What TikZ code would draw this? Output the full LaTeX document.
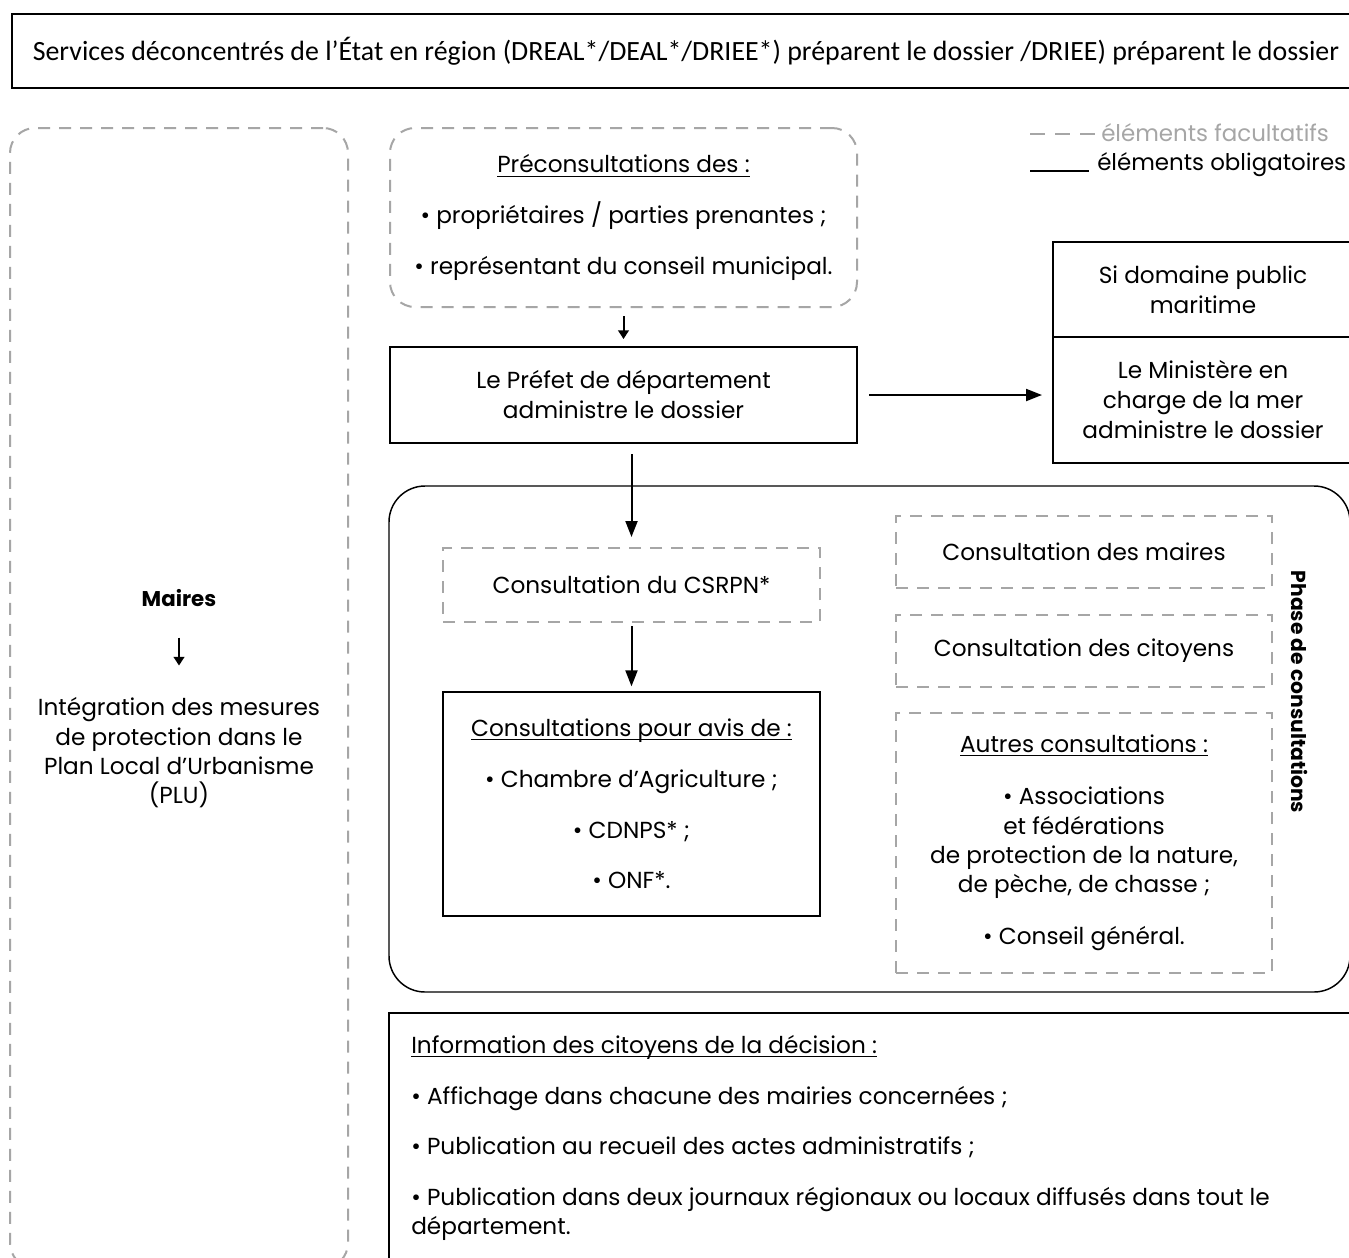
\documentclass[tikz,border=0pt]{standalone}
\usepackage{fontspec}
\setmainfont{Poppins}
\newfontfamily\bannerfont{Carlito}
\usetikzlibrary{arrows.meta}
\newlength\myulw
\newcommand\myul[1]{\settowidth\myulw{#1}\rlap{\rule[-2.8pt]{\myulw}{0.8pt}}#1}
\definecolor{dgray}{HTML}{A6A6A6}
\begin{document}
\begin{tikzpicture}[x=0.75pt,y=-0.75pt,
 txt/.style={font=\fontsize{17.4}{22.5}\selectfont, align=center, text=black},
 solidbox/.style={draw=black, line width=1.5pt, inner sep=0pt},
 thinbox/.style={draw=black, line width=1pt, inner sep=0pt},
 optbox/.style={draw=dgray, line width=1.5pt, dash pattern=on 9pt off 6.75pt, inner sep=0pt},
 conn/.style={-{Triangle[length=12pt,width=9pt]}, line width=1.5pt},
 smallarrow/.style={-{Triangle[length=6.5pt,width=8pt]}, line width=1.5pt},
]
\useasboundingbox (0,0) rectangle (1349,1257);
\clip (0,0) rectangle (1349,1257);
\fill[white] (0,0) rectangle (1349,1257);

% banner
\node[draw=black, line width=1.2pt, inner sep=0pt, minimum width=1011pt, minimum height=55.5pt,
  font={\bannerfont\fontsize{20.9}{24}\selectfont}] (banner) at (686,51)
  {Services déconcentrés de l’État en région (DREAL*/DEAL*/DRIEE*) préparent le dossier /DRIEE) préparent le dossier};

% legend
\node[anchor=west, text=dgray, font=\fontsize{17.2}{20}\selectfont, inner sep=0pt] (legopt) at (1101,133) {éléments facultatifs};
\coordinate (legoptstart) at (1030,134);
\draw[dgray, line width=1.5pt, dash pattern=on 11.25pt off 7.5pt, shorten >=4.5pt] (legoptstart) -- (legoptstart -| legopt.west);
\node[anchor=base west, font=\fontsize{17.2}{20}\selectfont, inner sep=0pt] (legobl) at (1097,170) {éléments obligatoires};
\coordinate (legoblstart) at (1030,171);
\draw[black, line width=1.5pt, shorten >=6pt] (legoblstart) -- (legoblstart -| legobl.west);

% left column
\node[optbox, rounded corners=18.75pt, minimum width=253.5pt, minimum height=855pt] (mairesbox) at (179,698) {};
\node[font=\fontsize{16}{22.5}\selectfont\bfseries, inner sep=0pt] (maires) at (179,598) {Maires};
\node[txt, font=\fontsize{17.4}{22}\selectfont, inner sep=0pt] (integ) at (179,753) {Intégration des mesures\\de protection dans le\\Plan Local d’Urbanisme\\(PLU)};
\draw[smallarrow, shorten <=23pt, shorten >=24pt] (maires.south) -- (integ.north);

% preconsultations
\node[optbox, rounded corners=18.75pt, minimum width=350.25pt, minimum height=134.25pt, txt, font=\fontsize{17.4}{38}\selectfont] (precon) at (623.5,217.5)
  {\myul{Préconsultations des :}\\• propriétaires / parties prenantes ;\\• représentant du conseil municipal.};
\node[solidbox, txt, minimum width=350.25pt, minimum height=72pt] (prefet) at (623.5,395) {Le Préfet de département\\administre le dossier};
\draw[smallarrow, shorten <=6pt, shorten >=5.25pt] (precon.south) -- (prefet.north);

% maritime
\node[solidbox, txt, minimum width=225pt, minimum height=71.25pt] (dpm) at (1203,289.5) {Si domaine public\\maritime};
\node[solidbox, txt, minimum width=225pt, minimum height=94.5pt] (minist) at (1203,400) {Le Ministère en\\charge de la mer\\administre le dossier};
\draw[conn, shorten <=8.25pt, shorten >=7.5pt] (prefet.east) -- (prefet.east -| minist.west);

% phase de consultations
\node[draw=black, line width=1.1pt, rounded corners=27pt, minimum width=720.75pt, minimum height=379.5pt, inner sep=0pt] (phasebox) at (869.5,739) {};
\node[optbox, txt, minimum width=282.75pt, minimum height=55.5pt] (csrpn) at (631.5,585) {Consultation du CSRPN*};
\draw[conn, shorten <=7.5pt, shorten >=7.5pt] (prefet.south -| csrpn.north) -- (csrpn.north);
\node[thinbox, txt, font=\fontsize{17.4}{38}\selectfont, minimum width=282.75pt, minimum height=168pt] (avis) at (631.5,804)
  {\myul{Consultations pour avis de :}\\• Chambre d’Agriculture ;\\• CDNPS* ;\\• ONF*.};
\draw[conn, shorten <=2.25pt, shorten >=3.75pt] (csrpn.south) -- (avis.north);

\node[optbox, txt, minimum width=282pt, minimum height=54pt] (cmaires) at (1084,552) {Consultation des maires};
\node[optbox, txt, minimum width=282pt, minimum height=54pt] (ccitoy) at (1084,651) {Consultation des citoyens};
\node[optbox, txt, font=\fontsize{17.4}{22}\selectfont, minimum width=282pt, minimum height=195pt] (cautres) at (1084,843)
  {\myul{Autres consultations :}\\[17pt]• Associations\\et fédérations\\de protection de la nature,\\de pèche, de chasse ;\\[17pt]• Conseil général.};
\node[rotate=-90, font=\fontsize{15.2}{18}\selectfont\bfseries, inner sep=0pt] (phase) at (1300,692) {Phase de consultations};

% information
\node[draw=black, line width=1.1pt, minimum width=728.25pt, minimum height=192.75pt, inner sep=0pt] (infobox) at (874.5,1141.5) {};
\node[txt, align=left, anchor=north west, font=\fontsize{17.4}{22}\selectfont, inner sep=0pt] (infotxt) at (411,1035)
  {\myul{Information des citoyens de la décision :}\\[16pt]• Affichage dans chacune des mairies concernées ;\\[16pt]• Publication au recueil des actes administratifs ;\\[16pt]• Publication dans deux journaux régionaux ou locaux diffusés dans tout le\\département.};
\end{tikzpicture}
\end{document}
